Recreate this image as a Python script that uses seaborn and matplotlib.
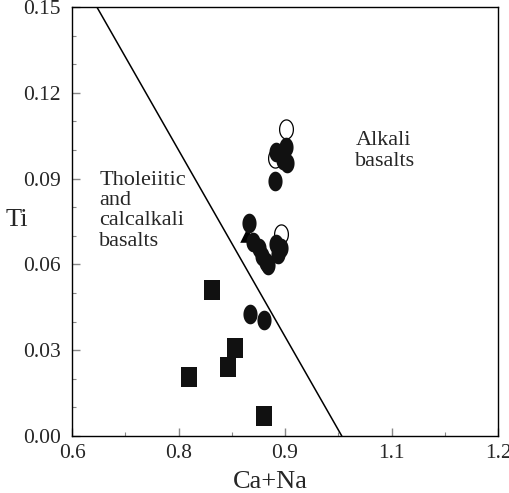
import numpy as np
import pandas as pd
import matplotlib
matplotlib.use("Agg")
import matplotlib.pyplot as plt
import seaborn as sns

# Basalt compositions (Ca+Na vs Ti)
filled_x = [0.9014, 0.8873, 0.8972, 0.9028, 0.8859,
            0.8486, 0.8549, 0.8634, 0.8676, 0.8732, 0.8761,
            0.8873, 0.8944, 0.8901, 0.8514, 0.8711]
filled_y = [0.1010, 0.0993, 0.0965, 0.0955, 0.0892,
            0.0745, 0.0678, 0.0657, 0.0629, 0.0608, 0.0598,
            0.0671, 0.0657, 0.0636, 0.0428, 0.0406]
open_x = [0.9014, 0.8859, 0.8944]
open_y = [0.1073, 0.0972, 0.0706]
tri_x = [0.8465]
tri_y = [0.0703]
square_x = [0.7965, 0.8289, 0.8204, 0.7648, 0.8711]
square_y = [0.0510, 0.0309, 0.0240, 0.0208, 0.0070]

# Discriminant line between fields
line_x = [0.635, 0.980]
line_y = [0.150, 0.000]

x_ticks = [0.6, 0.75, 0.9, 1.05, 1.2]
x_tick_labels = ["0.6", "0.8", "0.9", "1.1", "1.2"]
y_ticks = [0.00, 0.03, 0.06, 0.09, 0.12, 0.15]
y_tick_labels = ["0.00", "0.03", "0.06", "0.09", "0.12", "0.15"]

sns.set_style("ticks")
plt.rcParams["font.family"] = ["Liberation Serif", "DejaVu Serif"]

fig = plt.figure(figsize=(5.10, 4.93), dpi=100)
ax = fig.add_axes([72 / 510, 1 - 436 / 493, 426 / 510, 429 / 493])

# Slightly tall elliptical / rectangular marker outlines
t = np.linspace(0, 2 * np.pi, 60)
ellipse = list(zip(0.36 * np.cos(t), 0.5 * np.sin(t)))
rect = [(-0.4, -0.5), (0.4, -0.5), (0.4, 0.5), (-0.4, 0.5), (-0.4, -0.5)]

sns.lineplot(x=line_x, y=line_y, ax=ax, color="black", lw=1.1, zorder=2)

sns.scatterplot(x=open_x, y=open_y, ax=ax, marker=ellipse, s=190,
                facecolor="white", edgecolor="black", linewidth=0.9, zorder=3)
sns.scatterplot(x=tri_x, y=tri_y, ax=ax, marker="^", s=110,
                color="black", edgecolor="black", linewidth=0, zorder=4)
sns.scatterplot(x=filled_x, y=filled_y, ax=ax, marker=ellipse, s=200,
                color="#111111", edgecolor="#111111", linewidth=0, zorder=5)
sns.scatterplot(x=square_x, y=square_y, ax=ax, marker=rect, s=200,
                color="#111111", edgecolor="#111111", linewidth=0, zorder=5)

ax.set_xlim(0.6, 1.2)
ax.set_ylim(0.0, 0.15)
ax.set_xticks(x_ticks)
ax.set_xticklabels(x_tick_labels)
ax.set_yticks(y_ticks)
ax.set_yticklabels(y_tick_labels)
ax.set_xticks(np.arange(0.675, 1.2, 0.15), minor=True)
ax.set_yticks(np.arange(0.0, 0.151, 0.01), minor=True)
ax.tick_params(axis="both", which="both", direction="in", color="#888888",
               top=False, right=False, labelsize=15.5)
ax.tick_params(axis="y", which="major", pad=8)
ax.tick_params(axis="x", which="major", pad=6)
ax.tick_params(which="major", length=6, width=1)
ax.tick_params(which="minor", length=3, width=0.8)
for sp in ax.spines.values():
    sp.set_linewidth(1.0)
    sp.set_color("black")
    sp.set_visible(True)

ax.set_xlabel("Ca+Na", fontsize=19, ha="center", va="center")
ax.xaxis.set_label_coords(0.466, -0.107)
ax.set_ylabel("Ti", fontsize=19, rotation=0, ha="center", va="center")
ax.yaxis.set_label_coords(-0.130, 0.503)

ax.text(0.999, 0.1065, "Alkali\nbasalts", fontsize=16, va="top", ha="left",
        linespacing=1.1)
ax.text(0.6385, 0.0928, "Tholeiitic\nand\ncalcalkali\nbasalts", fontsize=16,
        va="top", ha="left", linespacing=1.1)

fig.savefig("out.png", dpi=100)
